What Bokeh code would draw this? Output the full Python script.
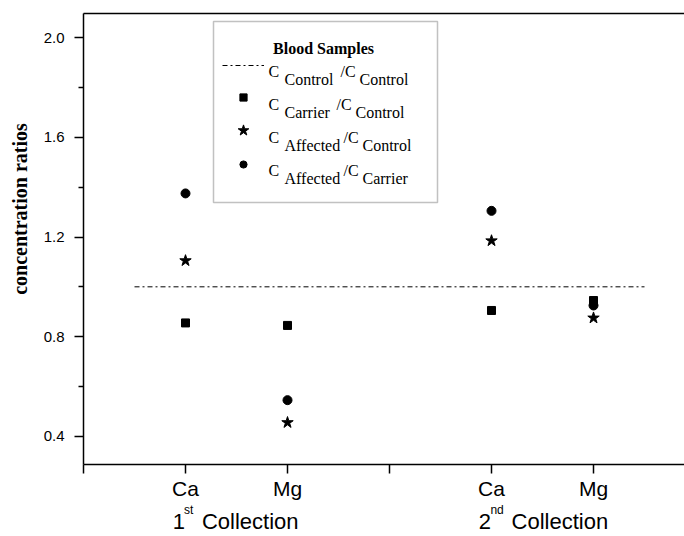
from bokeh.plotting import figure
from bokeh.models import (Range1d, FixedTicker, LinearAxis, Label, BoxAnnotation,
                          Legend, LegendItem, ColumnDataSource, NumeralTickFormatter)
from bokeh.embed import file_html
from bokeh.resources import INLINE

# ---------------- data ----------------
elements = ["Ca", "Mg", "Ca", "Mg"]
element_x = [1, 2, 4, 5]
carrier_over_control = [0.855, 0.845, 0.905, 0.945]
affected_over_control = [1.105, 0.455, 1.185, 0.875]
affected_over_carrier = [1.375, 0.545, 1.305, 0.925]
control_x = [0.5, 5.5]
control_y = [1.0, 1.0]

x_ticks = [0, 1, 2, 3, 4, 5, 6]
y_ticks = [0.4, 0.8, 1.2, 1.6, 2.0]
y_minor = [0.6, 1.0, 1.4, 1.8]

collection_num = ["1", "2"]
collection_sup = ["st", "nd"]
collection_word = "Collection"

legend_title = "Blood Samples"
legend_num = ["Control", "Carrier", "Affected", "Affected"]
legend_den = ["Control", "Control", "Control", "Carrier"]

# ---------------- figure ----------------
FRAME_LEFT, FRAME_BOTTOM = 83, 465   # expected page position of the frame's bottom-left corner

p = figure(width=684, height=536, output_backend="svg", toolbar_location=None,
           x_range=Range1d(0, 5.892), y_range=Range1d(0.2866, 2.0974),
           min_border_left=83, min_border_right=0, min_border_top=13, min_border_bottom=71)
p.outline_line_color = None
p.grid.visible = False
p.background_fill_color = "white"

SANS = "Liberation Sans"
SERIF = "Liberation Serif"

# x axis (element names)
overrides = {t: "" for t in x_ticks}
for xv, name in zip(element_x, elements):
    overrides[xv] = name
xa = p.xaxis[0]
xa.ticker = FixedTicker(ticks=x_ticks)
xa.major_label_overrides = overrides
xa.major_tick_out = 9
xa.major_tick_in = 0
xa.minor_tick_line_color = None
xa.major_label_standoff = 3
xa.major_label_text_font = SANS
xa.major_label_text_font_size = "21px"
xa.major_label_text_color = "black"
xa.axis_line_width = 1.5
xa.major_tick_line_width = 1.5
xa.axis_line_color = "black"
xa.major_tick_line_color = "black"

# collection captions: superscript row + main row, as extra label-only axes
group_centers = [(element_x[0] + element_x[1]) / 2, (element_x[2] + element_x[3]) / 2]
sup_ticks, sup_over = [], {}
main_ticks, main_over = [], {}
for gc, num, sup, sup_off, word_off in zip(group_centers, collection_num, collection_sup,
                                            [-0.47, -0.445], [0.135, 0.17]):
    sup_ticks.append(gc + sup_off)
    sup_over[gc + sup_off] = sup
    main_ticks += [gc - 0.565, gc + word_off]
    main_over[gc - 0.565] = num
    main_over[gc + word_off] = collection_word


def label_axis(ticks, over, size, standoff):
    ax = LinearAxis(ticker=FixedTicker(ticks=ticks), major_label_overrides=over,
                    axis_line_color=None, major_tick_line_color=None, minor_tick_line_color=None,
                    major_tick_out=0, major_tick_in=0, minor_tick_out=0, minor_tick_in=0,
                    major_label_standoff=standoff, major_label_text_font=SANS,
                    major_label_text_font_size=f"{size}px", major_label_text_color="black")
    p.add_layout(ax, "below")


label_axis(sup_ticks, sup_over, 12, 0)
label_axis(main_ticks, main_over, 22, -11)

# y axis
ya = p.yaxis[0]
ya.ticker = FixedTicker(ticks=y_ticks, minor_ticks=y_minor)
ya.formatter = NumeralTickFormatter(format="0.0")
ya.major_tick_out = 9
ya.major_tick_in = 0
ya.minor_tick_out = 5
ya.minor_tick_in = 0
ya.major_label_standoff = 10
ya.major_label_text_font = SANS
ya.major_label_text_font_size = "15px"
ya.major_label_text_color = "black"
ya.axis_line_width = 1.5
ya.major_tick_line_width = 1.5
ya.minor_tick_line_width = 1.5
ya.axis_line_color = "black"
ya.major_tick_line_color = "black"
ya.minor_tick_line_color = "black"
ya.axis_label = "\u00a0" * 12 + "concentration ratios"
ya.axis_label_text_font = SERIF
ya.axis_label_text_font_style = "bold"
ya.axis_label_text_font_size = "20px"
ya.axis_label_text_color = "black"
ya.axis_label_standoff = 10

# top border line
top_axis = LinearAxis(ticker=FixedTicker(ticks=[]), major_tick_out=0, major_tick_in=0,
                      minor_tick_out=0, minor_tick_in=0, major_label_standoff=0,
                      axis_line_width=1.5, axis_line_color="black")
p.add_layout(top_axis, "above")

# ---------------- glyphs ----------------
src = ColumnDataSource(dict(x=element_x, car=carrier_over_control,
                            aff=affected_over_control, affcar=affected_over_carrier))
r_line = p.line(control_x, control_y, line_color="black", line_width=1, line_dash="5 3 2 3")
r_sq = p.scatter("x", "car", source=src, marker="square", size=8, color="black")
r_star = p.scatter("x", "aff", source=src, marker="star", size=12, color="black")
r_circ = p.scatter("x", "affcar", source=src, marker="circle", size=9, color="black")


# ---------------- legend (page coordinates -> frame screen units) ----------------
def sx(px):
    return px - FRAME_LEFT


def sy(py):
    return FRAME_BOTTOM - py


box = BoxAnnotation(left=sx(213), right=sx(437), top=sy(22), bottom=sy(203),
                    left_units="screen", right_units="screen", top_units="screen", bottom_units="screen",
                    fill_alpha=0, line_color="#333333", line_width=1.5)
p.add_layout(box)

# one glyph-only legend per row (row centre in page px, glyph box height sets marker size)
row_centers = [66, 98, 131, 164.5]
glyph_heights = [20, 18, 28, 18]
for r, cy, gh in zip((r_line, r_sq, r_star, r_circ), row_centers, glyph_heights):
    lg = Legend(items=[LegendItem(label=" ", renderers=[r])],
                location=(sx(222), sy(cy + gh / 2)), orientation="vertical",
                glyph_width=42, glyph_height=gh, label_height=gh, label_width=0,
                label_standoff=0, spacing=0, padding=0, margin=0,
                border_line_color=None, background_fill_alpha=0, label_text_font_size="1px")
    p.add_layout(lg)


def lab(x, y, text, size, font=SERIF, style="normal", align="left"):
    p.add_layout(Label(x=sx(x), y=sy(y), x_units="screen", y_units="screen", text=text,
                       text_font=font, text_font_size=f"{size}px", text_font_style=style,
                       text_align=align, text_baseline="alphabetic", text_color="black"))


lab(323, 48.5, legend_title, 16, style="bold", align="center")
slash_x = [340, 336, 343, 343]
for i, (num, den) in enumerate(zip(legend_num, legend_den)):
    base = 72 + 33 * i
    lab(268, base, "C", 16)
    lab(284, base + 8, num, 16)
    lab(slash_x[i], base, "/C", 16)
    lab(slash_x[i] + 19, base + 8, den, 16)

open("out.html", "w").write(file_html(p, INLINE))
